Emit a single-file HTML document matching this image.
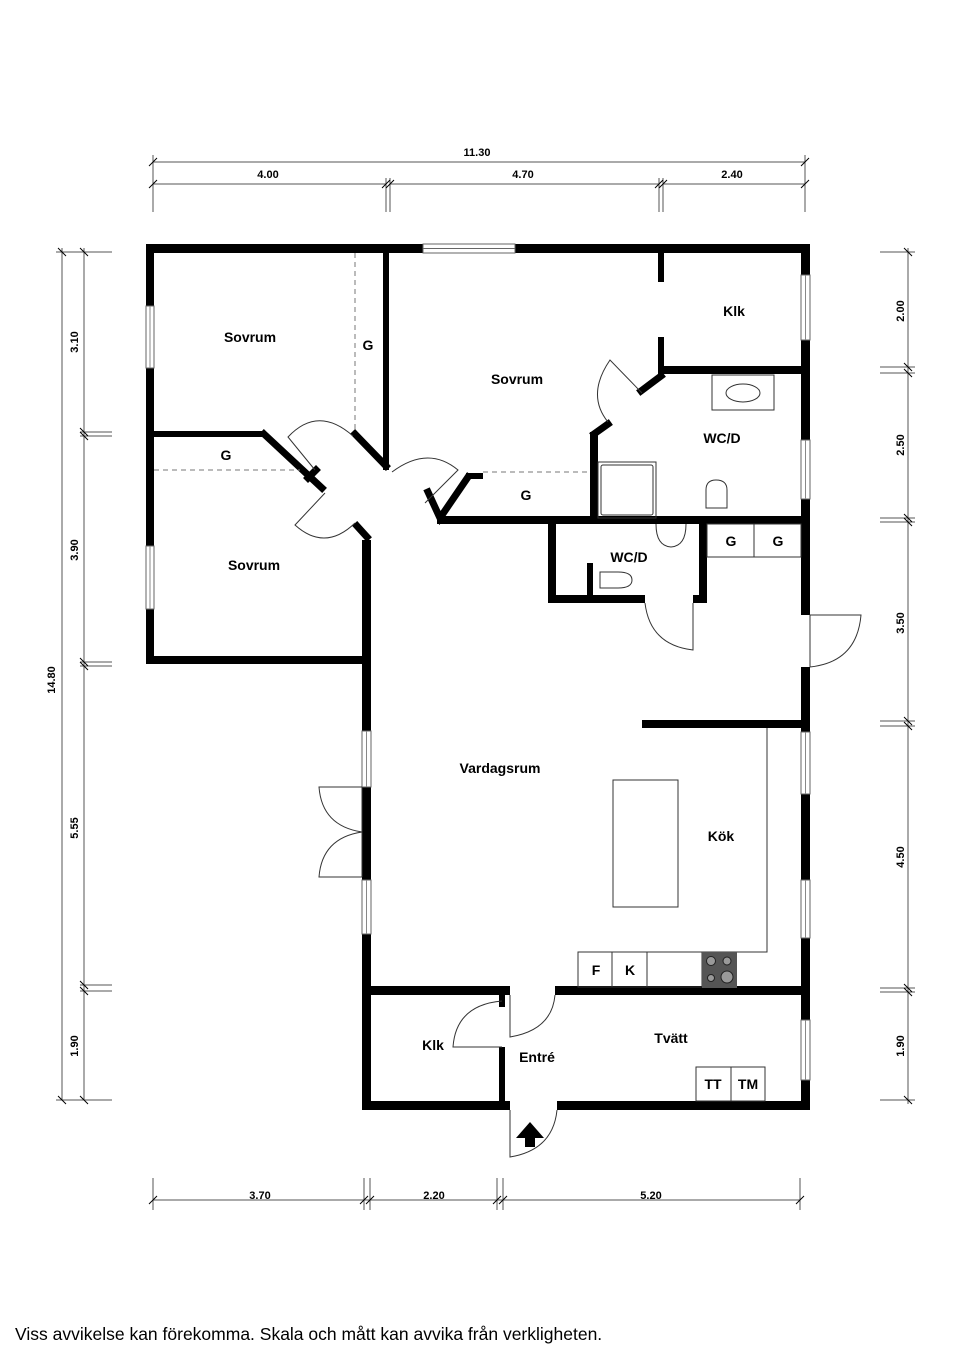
<!DOCTYPE html>
<html><head><meta charset="utf-8"><style>
body{margin:0;background:#fff;width:960px;height:1358px;overflow:hidden}
svg{display:block}
text{font-family:"Liberation Sans",sans-serif;font-weight:bold;fill:#000}
</style></head><body>
<svg width="960" height="1358" viewBox="0 0 960 1358">
<g stroke="#555" stroke-width="1" fill="none">
<line x1="153" y1="162" x2="805" y2="162"/>
<line x1="153" y1="184" x2="386" y2="184"/><line x1="390" y1="184" x2="659" y2="184"/><line x1="663" y1="184" x2="805" y2="184"/>
<line x1="153" y1="155" x2="153" y2="212"/><line x1="805" y1="155" x2="805" y2="212"/>
<line x1="386" y1="178" x2="386" y2="212"/><line x1="390" y1="178" x2="390" y2="212"/>
<line x1="659" y1="178" x2="659" y2="212"/><line x1="663" y1="178" x2="663" y2="212"/>
<line x1="62" y1="248" x2="62" y2="1100"/><line x1="84" y1="248" x2="84" y2="1100"/>
<line x1="56" y1="252" x2="112" y2="252"/><line x1="56" y1="1100" x2="112" y2="1100"/>
<line x1="80" y1="432" x2="112" y2="432"/><line x1="80" y1="436" x2="112" y2="436"/>
<line x1="80" y1="662" x2="112" y2="662"/><line x1="80" y1="666" x2="112" y2="666"/>
<line x1="80" y1="985" x2="112" y2="985"/><line x1="80" y1="991" x2="112" y2="991"/>
<line x1="908" y1="248" x2="908" y2="1104"/>
<line x1="880" y1="252" x2="915" y2="252"/><line x1="880" y1="1100" x2="915" y2="1100"/>
<line x1="880" y1="367" x2="915" y2="367"/><line x1="880" y1="373" x2="915" y2="373"/>
<line x1="880" y1="518" x2="915" y2="518"/><line x1="880" y1="522" x2="915" y2="522"/>
<line x1="880" y1="721" x2="915" y2="721"/><line x1="880" y1="726" x2="915" y2="726"/>
<line x1="880" y1="988" x2="915" y2="988"/><line x1="880" y1="992" x2="915" y2="992"/>
<line x1="153" y1="1200" x2="800" y2="1200"/>
<line x1="153" y1="1178" x2="153" y2="1210"/><line x1="800" y1="1178" x2="800" y2="1210"/>
<line x1="364" y1="1178" x2="364" y2="1210"/><line x1="370" y1="1178" x2="370" y2="1210"/>
<line x1="497" y1="1178" x2="497" y2="1210"/><line x1="503" y1="1178" x2="503" y2="1210"/>
</g>
<g stroke="#000" stroke-width="1">
<line x1="149" y1="166" x2="157" y2="158"/><line x1="801" y1="166" x2="809" y2="158"/>
<line x1="149" y1="188" x2="157" y2="180"/><line x1="382" y1="188" x2="390" y2="180"/><line x1="386" y1="188" x2="394" y2="180"/>
<line x1="655" y1="188" x2="663" y2="180"/><line x1="659" y1="188" x2="667" y2="180"/><line x1="801" y1="188" x2="809" y2="180"/>
<line x1="58" y1="248" x2="66" y2="256"/><line x1="80" y1="248" x2="88" y2="256"/>
<line x1="80" y1="428" x2="88" y2="436"/><line x1="80" y1="432" x2="88" y2="440"/>
<line x1="80" y1="658" x2="88" y2="666"/><line x1="80" y1="662" x2="88" y2="670"/>
<line x1="80" y1="981" x2="88" y2="989"/><line x1="80" y1="987" x2="88" y2="995"/>
<line x1="58" y1="1096" x2="66" y2="1104"/><line x1="80" y1="1096" x2="88" y2="1104"/>
<line x1="904" y1="248" x2="912" y2="256"/><line x1="904" y1="363" x2="912" y2="371"/><line x1="904" y1="369" x2="912" y2="377"/>
<line x1="904" y1="514" x2="912" y2="522"/><line x1="904" y1="518" x2="912" y2="526"/>
<line x1="904" y1="717" x2="912" y2="725"/><line x1="904" y1="722" x2="912" y2="730"/>
<line x1="904" y1="984" x2="912" y2="992"/><line x1="904" y1="988" x2="912" y2="996"/><line x1="904" y1="1096" x2="912" y2="1104"/>
<line x1="149" y1="1204" x2="157" y2="1196"/><line x1="360" y1="1204" x2="368" y2="1196"/><line x1="366" y1="1204" x2="374" y2="1196"/>
<line x1="493" y1="1204" x2="501" y2="1196"/><line x1="499" y1="1204" x2="507" y2="1196"/><line x1="796" y1="1204" x2="804" y2="1196"/>
</g>
<g font-size="11">
<text x="477" y="156" text-anchor="middle">11.30</text>
<text x="268" y="178" text-anchor="middle">4.00</text>
<text x="523" y="178" text-anchor="middle">4.70</text>
<text x="732" y="178" text-anchor="middle">2.40</text>
<text x="260" y="1199" text-anchor="middle">3.70</text>
<text x="434" y="1199" text-anchor="middle">2.20</text>
<text x="651" y="1199" text-anchor="middle">5.20</text>
<text transform="translate(55,680) rotate(-90)" text-anchor="middle">14.80</text>
<text transform="translate(78,342) rotate(-90)" text-anchor="middle">3.10</text>
<text transform="translate(78,550) rotate(-90)" text-anchor="middle">3.90</text>
<text transform="translate(78,828) rotate(-90)" text-anchor="middle">5.55</text>
<text transform="translate(78,1046) rotate(-90)" text-anchor="middle">1.90</text>
<text transform="translate(904,311) rotate(-90)" text-anchor="middle">2.00</text>
<text transform="translate(904,445) rotate(-90)" text-anchor="middle">2.50</text>
<text transform="translate(904,623) rotate(-90)" text-anchor="middle">3.50</text>
<text transform="translate(904,857) rotate(-90)" text-anchor="middle">4.50</text>
<text transform="translate(904,1046) rotate(-90)" text-anchor="middle">1.90</text>
</g>
<g fill="#000">
<rect x="146" y="244" width="664" height="9"/>
<rect x="146" y="244" width="8" height="420"/>
<rect x="801" y="244" width="9" height="371"/>
<rect x="801" y="667" width="9" height="443"/>
<rect x="146" y="656" width="225" height="8"/>
<rect x="362" y="540" width="9" height="570"/>
<rect x="362" y="1101" width="148" height="9"/>
<rect x="557" y="1101" width="253" height="9"/>
<rect x="383" y="249" width="6" height="221"/>
<rect x="150" y="431" width="115" height="6"/>
<rect x="437" y="516" width="368" height="8"/>
<rect x="590" y="432" width="8" height="88"/>
<rect x="658" y="249" width="6" height="33"/>
<rect x="658" y="337" width="6" height="37"/>
<rect x="661" y="366" width="144" height="8"/>
<rect x="548" y="520" width="8" height="83"/>
<rect x="548" y="595" width="97" height="8"/>
<rect x="693" y="595" width="14" height="8"/>
<rect x="699" y="520" width="8" height="83"/>
<rect x="587" y="563" width="6" height="38"/>
<rect x="642" y="720" width="163" height="8"/>
<rect x="362" y="986" width="148" height="9"/>
<rect x="555" y="986" width="250" height="9"/>
<rect x="499" y="995" width="6" height="12"/>
<rect x="499" y="1047" width="6" height="58"/>
<rect x="466" y="473" width="17" height="6"/>
</g>
<g stroke="#000" stroke-width="7" fill="none" stroke-linecap="square">
<polyline points="264,434 322,488"/>
<line x1="308" y1="478" x2="316" y2="470"/>
<polyline points="355,434 386,466"/>
<polyline points="357,526 367,537"/>
<polyline points="428,492 440,518 468,477"/>
<polyline points="594,434 608,424"/>
<polyline points="641,391 661,376"/>
</g>
<g fill="#fff" stroke="#666" stroke-width="1">
<rect x="423" y="244" width="92" height="9"/><line x1="423" y1="248.5" x2="515" y2="248.5"/>
<rect x="146" y="306" width="8" height="62"/><rect x="146" y="546" width="8" height="63"/>
<rect x="801" y="275" width="9" height="65"/><rect x="801" y="440" width="9" height="59"/>
<rect x="801" y="732" width="9" height="62"/><rect x="801" y="880" width="9" height="58"/>
<rect x="801" y="1020" width="9" height="60"/>
<rect x="362" y="731" width="9" height="56"/><rect x="362" y="880" width="9" height="54"/>
</g>
<g stroke="#888" stroke-width="1"><line x1="150" y1="306" x2="150" y2="368"/><line x1="150" y1="546" x2="150" y2="609"/><line x1="805.5" y1="275" x2="805.5" y2="340"/><line x1="805.5" y1="440" x2="805.5" y2="499"/><line x1="805.5" y1="732" x2="805.5" y2="794"/><line x1="805.5" y1="880" x2="805.5" y2="938"/><line x1="805.5" y1="1020" x2="805.5" y2="1080"/><line x1="366.5" y1="731" x2="366.5" y2="787"/><line x1="366.5" y1="880" x2="366.5" y2="934"/></g>
<g stroke="#777" stroke-width="1" stroke-dasharray="5,4">
<line x1="355" y1="253" x2="355" y2="432"/>
<line x1="154" y1="470" x2="300" y2="470"/>
<line x1="483" y1="472" x2="590" y2="472"/>
</g>
<g stroke="#333" stroke-width="1" fill="none">
<path d="M315,470 L288,437 Q318,405 353,436"/>
<path d="M425,503 L458,470 Q428,445 392,472"/>
<path d="M325,493 L295,525 Q325,552 355,523"/>
<path d="M642,393 L610,360 Q586,395 608,422"/>
<path d="M645,603 Q650,645 693,650 L693,603"/>
<path d="M810,667 Q857,662 861,615 L810,615 L810,667"/>
<path d="M502,1001 Q456,1005 453,1047 L502,1047"/>
<path d="M510,995 L510,1037 Q552,1030 555,995"/>
<path d="M510,1110 L510,1157 Q553,1150 557,1110"/>
<path d="M362,787 L319,787 Q322,826 362,832 Q322,838 319,877 L362,877 M362,787 L362,877"/>
<rect x="613" y="780" width="65" height="127"/>
<polyline points="578,952 767,952 767,728"/>
<rect x="578" y="952" width="34" height="35"/><rect x="612" y="952" width="35" height="35"/><rect x="647" y="952" width="55" height="35"/>
<rect x="696" y="1067" width="35" height="34"/><rect x="731" y="1067" width="34" height="34"/>
<rect x="707" y="524" width="47" height="33"/><rect x="754" y="524" width="47" height="33"/>
<rect x="712" y="375" width="62" height="35"/>
<ellipse cx="743" cy="393" rx="17" ry="9"/>
<rect x="598" y="462" width="58" height="56"/><rect x="601" y="465" width="52" height="50" rx="2"/>
<path d="M706,508 L706,490 Q706,480 716,480 Q727,480 727,490 L727,508 Z"/>
<path d="M656,524 Q656,546 671,547 Q686,546 686,524"/>
<path d="M600,572 L618,572 Q632,572 632,580 Q632,588 618,588 L600,588 Z"/>
</g>
<rect x="702" y="952" width="35" height="36" fill="#555"/>
<g fill="#999" stroke="#222"><circle cx="711" cy="961" r="4.5"/><circle cx="727" cy="961" r="4"/><circle cx="711" cy="978" r="3.5"/><circle cx="727" cy="977" r="6"/></g>
<path d="M516,1138 L530,1122 L544,1138 L535,1138 L535,1147 L525,1147 L525,1138 Z" fill="#000"/>
<g font-size="14">
<text x="250" y="342" text-anchor="middle">Sovrum</text>
<text x="368" y="350" text-anchor="middle">G</text>
<text x="517" y="384" text-anchor="middle">Sovrum</text>
<text x="734" y="316" text-anchor="middle">Klk</text>
<text x="722" y="443" text-anchor="middle">WC/D</text>
<text x="226" y="460" text-anchor="middle">G</text>
<text x="526" y="500" text-anchor="middle">G</text>
<text x="254" y="570" text-anchor="middle">Sovrum</text>
<text x="629" y="562" text-anchor="middle">WC/D</text>
<text x="731" y="546" text-anchor="middle">G</text>
<text x="778" y="546" text-anchor="middle">G</text>
<text x="500" y="773" text-anchor="middle">Vardagsrum</text>
<text x="721" y="841" text-anchor="middle">Kök</text>
<text x="596" y="975" text-anchor="middle">F</text>
<text x="630" y="975" text-anchor="middle">K</text>
<text x="433" y="1050" text-anchor="middle">Klk</text>
<text x="537" y="1062" text-anchor="middle">Entré</text>
<text x="671" y="1043" text-anchor="middle">Tvätt</text>
<text x="713" y="1089" text-anchor="middle">TT</text>
<text x="748" y="1089" text-anchor="middle">TM</text>
</g>
<text x="15" y="1340" font-size="17.5" style="font-weight:normal">Viss avvikelse kan förekomma. Skala och mått kan avvika från verkligheten.</text>
</svg>
</body></html>
